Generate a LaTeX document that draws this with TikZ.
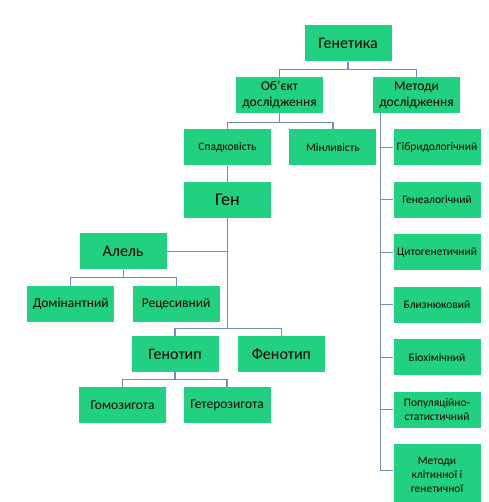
\documentclass[tikz,border=0pt]{standalone}
\usepackage{fontspec}
\setmainfont{Carlito}
\usetikzlibrary{positioning, calc}

\definecolor{boxgreen}{RGB}{33,208,128}
\definecolor{linkblue}{RGB}{112,144,184}

\begin{document}
\begin{tikzpicture}[
    x=1pt, y=1pt,
    box/.style={
        fill=boxgreen,
        align=center,
        minimum width=87pt,
        minimum height=36pt,
        inner sep=1pt
    },
    bigbox/.style={box, font=\fontsize{16}{18}\selectfont},
    midbox/.style={box, font=\fontsize{13.5}{16}\selectfont},
    smallbox/.style={box, font=\fontsize{11.5}{14}\selectfont},
    link/.style={draw=linkblue, line width=1.2pt}
]
\useasboundingbox (0,0) rectangle (488,-502);

% Top
\node[bigbox] (genetics) at (348,-43.5) {Генетика};
\node[midbox] (object) at (279.5,-95) {Об'єкт\\дослідження};
\node[midbox] (methods) at (416.5,-95) {Методи\\дослідження};

% Object branch
\node[smallbox] (heredity) at (227.5,-147.5) {Спадковість};
\node[smallbox, right=18pt of heredity] (variability) {Мінливість};
\node[bigbox, below=16pt of heredity, font=\fontsize{18}{20}\selectfont] (gene) {Ген};
\node[bigbox, below left=15pt and 17pt of gene] (allele) {Алель};
\node[midbox, below left=16pt and -35pt of allele] (dominant) {Домінантний};
\node[midbox, right=18pt of dominant] (recessive) {Рецесивний};
\node[bigbox] (genotype) at (175,-354) {Генотип};
\node[bigbox, right=19pt of genotype] (phenotype) {Фенотип};
\node[midbox, below left=15pt and -35pt of genotype] (homozygote) {Гомозигота};
\node[midbox, right=17pt of homozygote] (heterozygote) {Гетерозигота};

% Methods column
\node[smallbox] (hybrid) at (437,-147.5) {Гібридологічний};
\node[smallbox, below=16pt of hybrid] (genealog) {Генеалогічний};
\node[smallbox, below=16pt of genealog] (cytogen) {Цитогенетичний};
\node[smallbox, below=16pt of cytogen] (twins) {Близнюковий};
\node[smallbox, below=16pt of twins] (biochem) {Біохімічний};
\node[smallbox, below=16pt of biochem] (population) {Популяційно-\\статистичний};
\node[smallbox, below=16pt of population, minimum height=61pt] (cellular) {Методи\\клітинної і\\генетичної};

% Connectors
\coordinate (jtop) at ($(genetics.south)+(0,-8)$);
\draw[link] (genetics.south) -- (jtop) -| (object.north);
\draw[link] (jtop) -| (methods.north);

\coordinate (jobj) at ($(object.south)+(0,-9)$);
\draw[link] (object.south) -- (jobj) -| (heredity.north);
\draw[link] (jobj) -| (variability.north);
\draw[link] (heredity) -- (gene);

\coordinate (jgene) at ($(gene.south |- genotype.north)+(0,7)$);
\draw[link] (gene.south) -- (jgene) -| (genotype.north);
\draw[link] (jgene) -| (phenotype.north);
\draw[link] (allele.east) -- (allele.east -| gene.south);

\coordinate (jallele) at ($(allele.south)+(0,-8)$);
\draw[link] (allele.south) -- (jallele) -| (dominant.north);
\draw[link] (jallele) -| (recessive.north);

\coordinate (jgtype) at ($(genotype.south)+(0,-7)$);
\draw[link] (genotype.south) -- (jgtype) -| (homozygote.north);
\draw[link] (jgtype) -| (heterozygote.north);

\coordinate (mtop) at ($(methods.south west)+(8,0)$);
\draw[link] (mtop) |- ($(cellular.west)+(0,4)$);
\draw[link] (mtop |- hybrid.west) -- (hybrid.west);
\draw[link] (mtop |- genealog.west) -- (genealog.west);
\draw[link] (mtop |- cytogen.west) -- (cytogen.west);
\draw[link] (mtop |- twins.west) -- (twins.west);
\draw[link] (mtop |- biochem.west) -- (biochem.west);
\draw[link] (mtop |- population.west) -- (population.west);

\end{tikzpicture}
\end{document}
